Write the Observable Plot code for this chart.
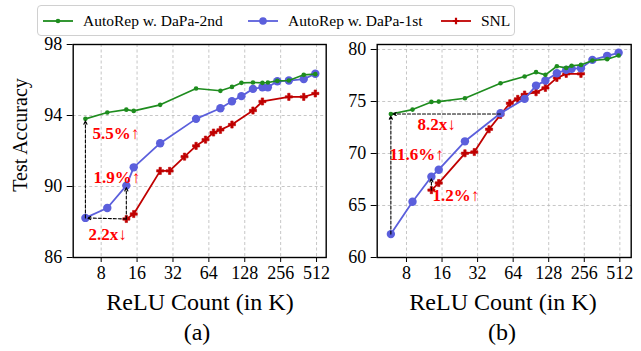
<!DOCTYPE html>
<html><head><meta charset="utf-8">
<script src="https://cdn.jsdelivr.net/npm/d3@7"></script>
<script src="https://cdn.jsdelivr.net/npm/@observablehq/plot@0.6"></script>
<style>
body{margin:0;background:#fff;}
#wrap{position:relative;width:641px;height:351px;overflow:hidden;font-family:"Liberation Serif","Times New Roman",serif;color:#000;}
.abs{position:absolute;white-space:nowrap;line-height:1;}
#legend{position:absolute;left:37px;top:5px;width:476px;height:29px;border:1px solid #d0d0d0;border-radius:4px;background:#fff;font-size:15.5px;}
.item{position:absolute;top:0;height:29px;display:flex;align-items:center;}
.item svg{margin-right:10px;}
</style></head>
<body><div id="wrap"></div>
<script>
// ---- data ----
const seriesNames = ["AutoRep w. DaPa-2nd", "AutoRep w. DaPa-1st", "SNL"];
const seriesColors = ["#1e8c1e", "#5b5fdc", "#c00000"];
const xTicks = [8, 16, 32, 64, 128, 256, 512];

// (a)
const aDapaX = [5.9, 9, 13, 15, 25, 50, 80, 100, 120, 150, 180, 200, 240, 300, 400, 500];
const aDapa2 = [93.81, 94.17, 94.33, 94.26, 94.60, 95.52, 95.39, 95.61, 95.84, 95.86, 95.84, 95.86, 95.95, 95.97, 96.29, 96.33];
const aDapa1 = [88.23, 88.79, 90.05, 91.08, 92.44, 93.81, 94.41, 94.80, 95.09, 95.50, 95.59, 95.59, 95.93, 95.97, 96.05, 96.35];
const aSnlX = [13, 15, 25, 30, 40, 50, 60, 70, 80, 100, 150, 180, 300, 400, 500];
const aSnl = [88.17, 88.45, 90.88, 90.88, 91.68, 92.29, 92.64, 93.04, 93.19, 93.49, 94.28, 94.79, 95.05, 95.05, 95.24];
const aYTicks = [86, 90, 94, 98];

// (b)
const bDapaX = [5.9, 9, 13, 15, 25, 50, 80, 100, 120, 150, 180, 200, 240, 300, 400, 500];
const bDapa2 = [73.80, 74.22, 74.96, 74.99, 75.31, 76.76, 77.40, 77.82, 77.56, 78.39, 78.23, 78.43, 78.52, 78.94, 79.07, 79.42];
const bDapa1 = [62.25, 65.36, 67.77, 68.44, 71.17, 73.87, 75.25, 76.53, 77.01, 77.72, 78.04, 78.14, 78.20, 79.00, 79.39, 79.68];
const bSnlX = [13, 15, 25, 30, 40, 50, 60, 70, 80, 100, 120, 150, 180, 240];
const bSnl = [66.48, 67.16, 70.02, 70.14, 72.33, 73.71, 74.83, 75.25, 75.67, 75.89, 76.31, 77.27, 77.66, 77.66];
const bYTicks = [60, 65, 70, 75, 80];

// annotation labels (data-space anchors, left-aligned)
const aNotes = [{x: 6.77, y: 93.0, t: "5.5%↑"}, {x: 6.9, y: 90.5, t: "1.9%↑"}, {x: 6.26, y: 87.3, t: "2.2x↓"}];
const bNotes = [{x: 9.9, y: 72.8, t: "8.2x↓"}, {x: 5.74, y: 69.9, t: "11.6%↑"}, {x: 13.3, y: 65.96, t: "1.2%↑"}];

function rows(xs, ys, s) { return xs.map((x, i) => ({x, y: ys[i], s})); }

function panel(opts) {
  const {width, height, mL, mR, mT, mB, xDomain, yDomain, yTicks, d2x, d2, d1, snlX, snl, arrows, notes} = opts;
  const g = rows(d2x, d2, 0), b = rows(d2x, d1, 1), r = rows(snlX, snl, 2);
  return Plot.plot({
    width, height, marginLeft: mL, marginRight: mR, marginTop: mT, marginBottom: mB,
    style: {fontFamily: "Liberation Serif", fontSize: "18px", color: "#000", background: "transparent", overflow: "visible"},
    x: {type: "log", base: 2, domain: xDomain},
    y: {domain: yDomain},
    marks: [
      Plot.gridX(xTicks, {stroke: "#b8b8b8", strokeOpacity: 1, strokeDasharray: "3,2.5", strokeWidth: 0.8}),
      Plot.gridY(yTicks, {stroke: "#b8b8b8", strokeOpacity: 1, strokeDasharray: "3,2.5", strokeWidth: 0.8}),
      Plot.line(r, {x: "x", y: "y", stroke: seriesColors[2], strokeWidth: 1.8}),
      Plot.dot(r, {x: "x", y: "y", symbol: "cross", r: 3, fill: seriesColors[2], stroke: seriesColors[2], strokeWidth: 0.6}),
      Plot.line(b, {x: "x", y: "y", stroke: seriesColors[1], strokeWidth: 1.8}),
      Plot.dot(b, {x: "x", y: "y", r: 4.2, fill: seriesColors[1]}),
      Plot.line(g, {x: "x", y: "y", stroke: seriesColors[0], strokeWidth: 1.6}),
      Plot.dot(g, {x: "x", y: "y", r: 2.3, fill: seriesColors[0]}),
      Plot.arrow(arrows, {x1: "x1", y1: "y1", x2: "x2", y2: "y2", stroke: "#000", strokeWidth: 1.1, strokeDasharray: "3,2", headLength: 5, headAngle: 50, insetEnd: 2}),
      Plot.text(notes, {x: "x", y: "y", text: "t", textAnchor: "start", fill: "#ff0000", fontWeight: "bold", fontSize: 17, fontFamily: "Liberation Serif"}),
      Plot.frame({stroke: "#000", strokeWidth: 1.4}),
      Plot.axisY(yTicks, {tickSize: 6, tickPadding: 5, fontSize: 18, tickFormat: d => d, strokeWidth: 1}),
      Plot.axisX(xTicks, {tickSize: 5, tickPadding: 4, fontSize: 18, tickFormat: d => d, strokeWidth: 1})
    ]
  });
}

const wrap = document.getElementById("wrap");

const aArrows = [
  {x1: aDapaX[0], y1: aDapa1[0], x2: aDapaX[0], y2: aDapa2[0]},
  {x1: aSnlX[0], y1: aSnl[0], x2: aDapaX[0], y2: aDapa1[0]},
  {x1: aSnlX[0], y1: aSnl[0], x2: aSnlX[0], y2: aDapa1[2]}
];
const bArrows = [
  {x1: bDapaX[0], y1: bDapa1[0], x2: bDapaX[0], y2: bDapa2[0]},
  {x1: bDapaX[5], y1: bDapa2[0], x2: bDapaX[0], y2: bDapa2[0]},
  {x1: bSnlX[0], y1: bSnl[0], x2: bSnlX[0], y2: bDapa1[2]}
];

const pa = panel({width: 330, height: 290, mL: 72.7, mR: 4.3, mT: 44, mB: 33,
  xDomain: [4.66, 617], yDomain: [86, 98], yTicks: aYTicks,
  d2x: aDapaX, d2: aDapa2, d1: aDapa1, snlX: aSnlX, snl: aSnl, arrows: aArrows, notes: aNotes});
pa.style.position = "absolute"; pa.style.left = "0px"; pa.style.top = "0px";
wrap.appendChild(pa);

const pb = panel({width: 306, height: 290, mL: 41.7, mR: 10.3, mT: 44, mB: 33,
  xDomain: [4.52, 639], yDomain: [60, 80.48], yTicks: bYTicks,
  d2x: bDapaX, d2: bDapa2, d1: bDapa1, snlX: bSnlX, snl: bSnl, arrows: bArrows, notes: bNotes});
pb.style.position = "absolute"; pb.style.left = "335px"; pb.style.top = "0px";
wrap.appendChild(pb);

function addText(txt, css) {
  const d = document.createElement("div");
  d.className = "abs"; d.textContent = txt;
  Object.assign(d.style, css);
  wrap.appendChild(d);
  return d;
}
addText("Test Accuracy", {left: "20px", top: "135px", fontSize: "20px", transform: "translate(-50%,-50%) rotate(-90deg)"});
addText("ReLU Count (in K)", {left: "200px", top: "302px", fontSize: "24px", transform: "translate(-50%,-50%)"});
addText("ReLU Count (in K)", {left: "503px", top: "302px", fontSize: "24px", transform: "translate(-50%,-50%)"});
addText("(a)", {left: "197px", top: "332px", fontSize: "24px", transform: "translate(-50%,-50%)"});
addText("(b)", {left: "502px", top: "332px", fontSize: "24px", transform: "translate(-50%,-50%)"});

// legend
const legend = document.createElement("div");
legend.id = "legend";
wrap.appendChild(legend);
const itemLeft = [5, 210, 403];
const markers = [
  '<circle cx="15" cy="6" r="2.3" FILL/>',
  '<circle cx="15" cy="6" r="3.8" FILL/>',
  '<path transform="translate(15,6)" d="M-1.1,-3.2H1.1V-1.1H3.2V1.1H1.1V3.2H-1.1V1.1H-3.2V-1.1H-1.1Z" FILL/>'
];
seriesNames.forEach((name, i) => {
  const it = document.createElement("div");
  it.className = "item";
  it.style.left = itemLeft[i] + "px";
  const c = seriesColors[i];
  it.innerHTML = `<svg width="30" height="12"><line x1="0" y1="6" x2="30" y2="6" stroke="${c}" stroke-width="1.8"/>${markers[i].replace("FILL", `fill="${c}"`)}</svg><span>${name}</span>`;
  legend.appendChild(it);
});
</script>
</body></html>
